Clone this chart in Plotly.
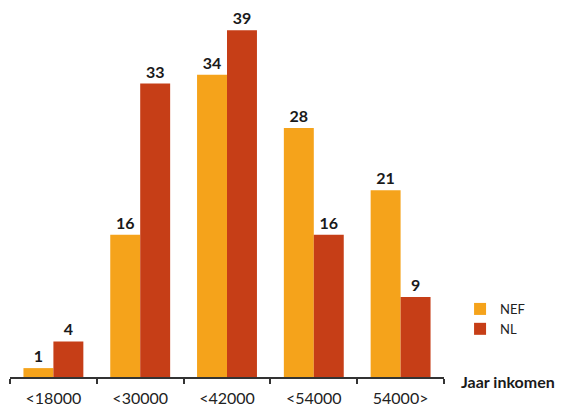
import plotly.graph_objects as go

categories = ["<18000", "<30000", "<42000", "<54000", "54000>"]
nef_values = [1, 16, 34, 28, 21]
nl_values = [4, 33, 39, 16, 9]
series_names = ["NEF", "NL"]
axis_title = "Jaar inkomen"

ORANGE = "#F5A31B"
RED = "#C63E17"
FONT = "Lato, Noto Sans, sans-serif"

fig = go.Figure()
for name, vals, col in [(series_names[0], nef_values, ORANGE), (series_names[1], nl_values, RED)]:
    fig.add_trace(go.Bar(
        x=categories, y=vals, name=name, marker=dict(color=col, line=dict(width=0)),
        text=[str(v) for v in vals], textposition="outside", cliponaxis=False,
        textfont=dict(family=FONT, size=16, color="#1a1a1a", weight="bold"),
    ))

# page body has an 8px margin; figure sized/placed to compensate
fig.update_layout(
    width=556, height=407,
    margin=dict(l=2, r=120, t=0, b=38),
    paper_bgcolor="white", plot_bgcolor="white",
    barmode="group", bargap=0.31, bargroupgap=0,
    font=dict(family=FONT, size=14, color="#222"),
    showlegend=True,
    legend=dict(x=1.037, y=0.225, xanchor="left", yanchor="top",
                font=dict(family=FONT, size=13, color="#222"),
                bgcolor="rgba(0,0,0,0)", itemwidth=30),
    xaxis=dict(
        type="category", range=[-0.5, 4.5], showline=True, linecolor="#333", linewidth=1.5,
        ticks="outside", tickson="boundaries", ticklen=5, tickcolor="#333", tickwidth=1.5,
        ticklabelstandoff=6,
        tickfont=dict(family=FONT, size=16, color="#222"), showgrid=False,
    ),
    yaxis=dict(range=[0, 41.5], visible=False, showgrid=False, zeroline=False),
    annotations=[dict(
        x=1.035, y=0, xref="paper", yref="paper", xanchor="left", yanchor="middle",
        text="<b>" + axis_title + "</b>", showarrow=False,
        font=dict(family=FONT, size=16, color="#1a1a1a"), yshift=-4,
    )],
)

fig.write_html("out.html")
